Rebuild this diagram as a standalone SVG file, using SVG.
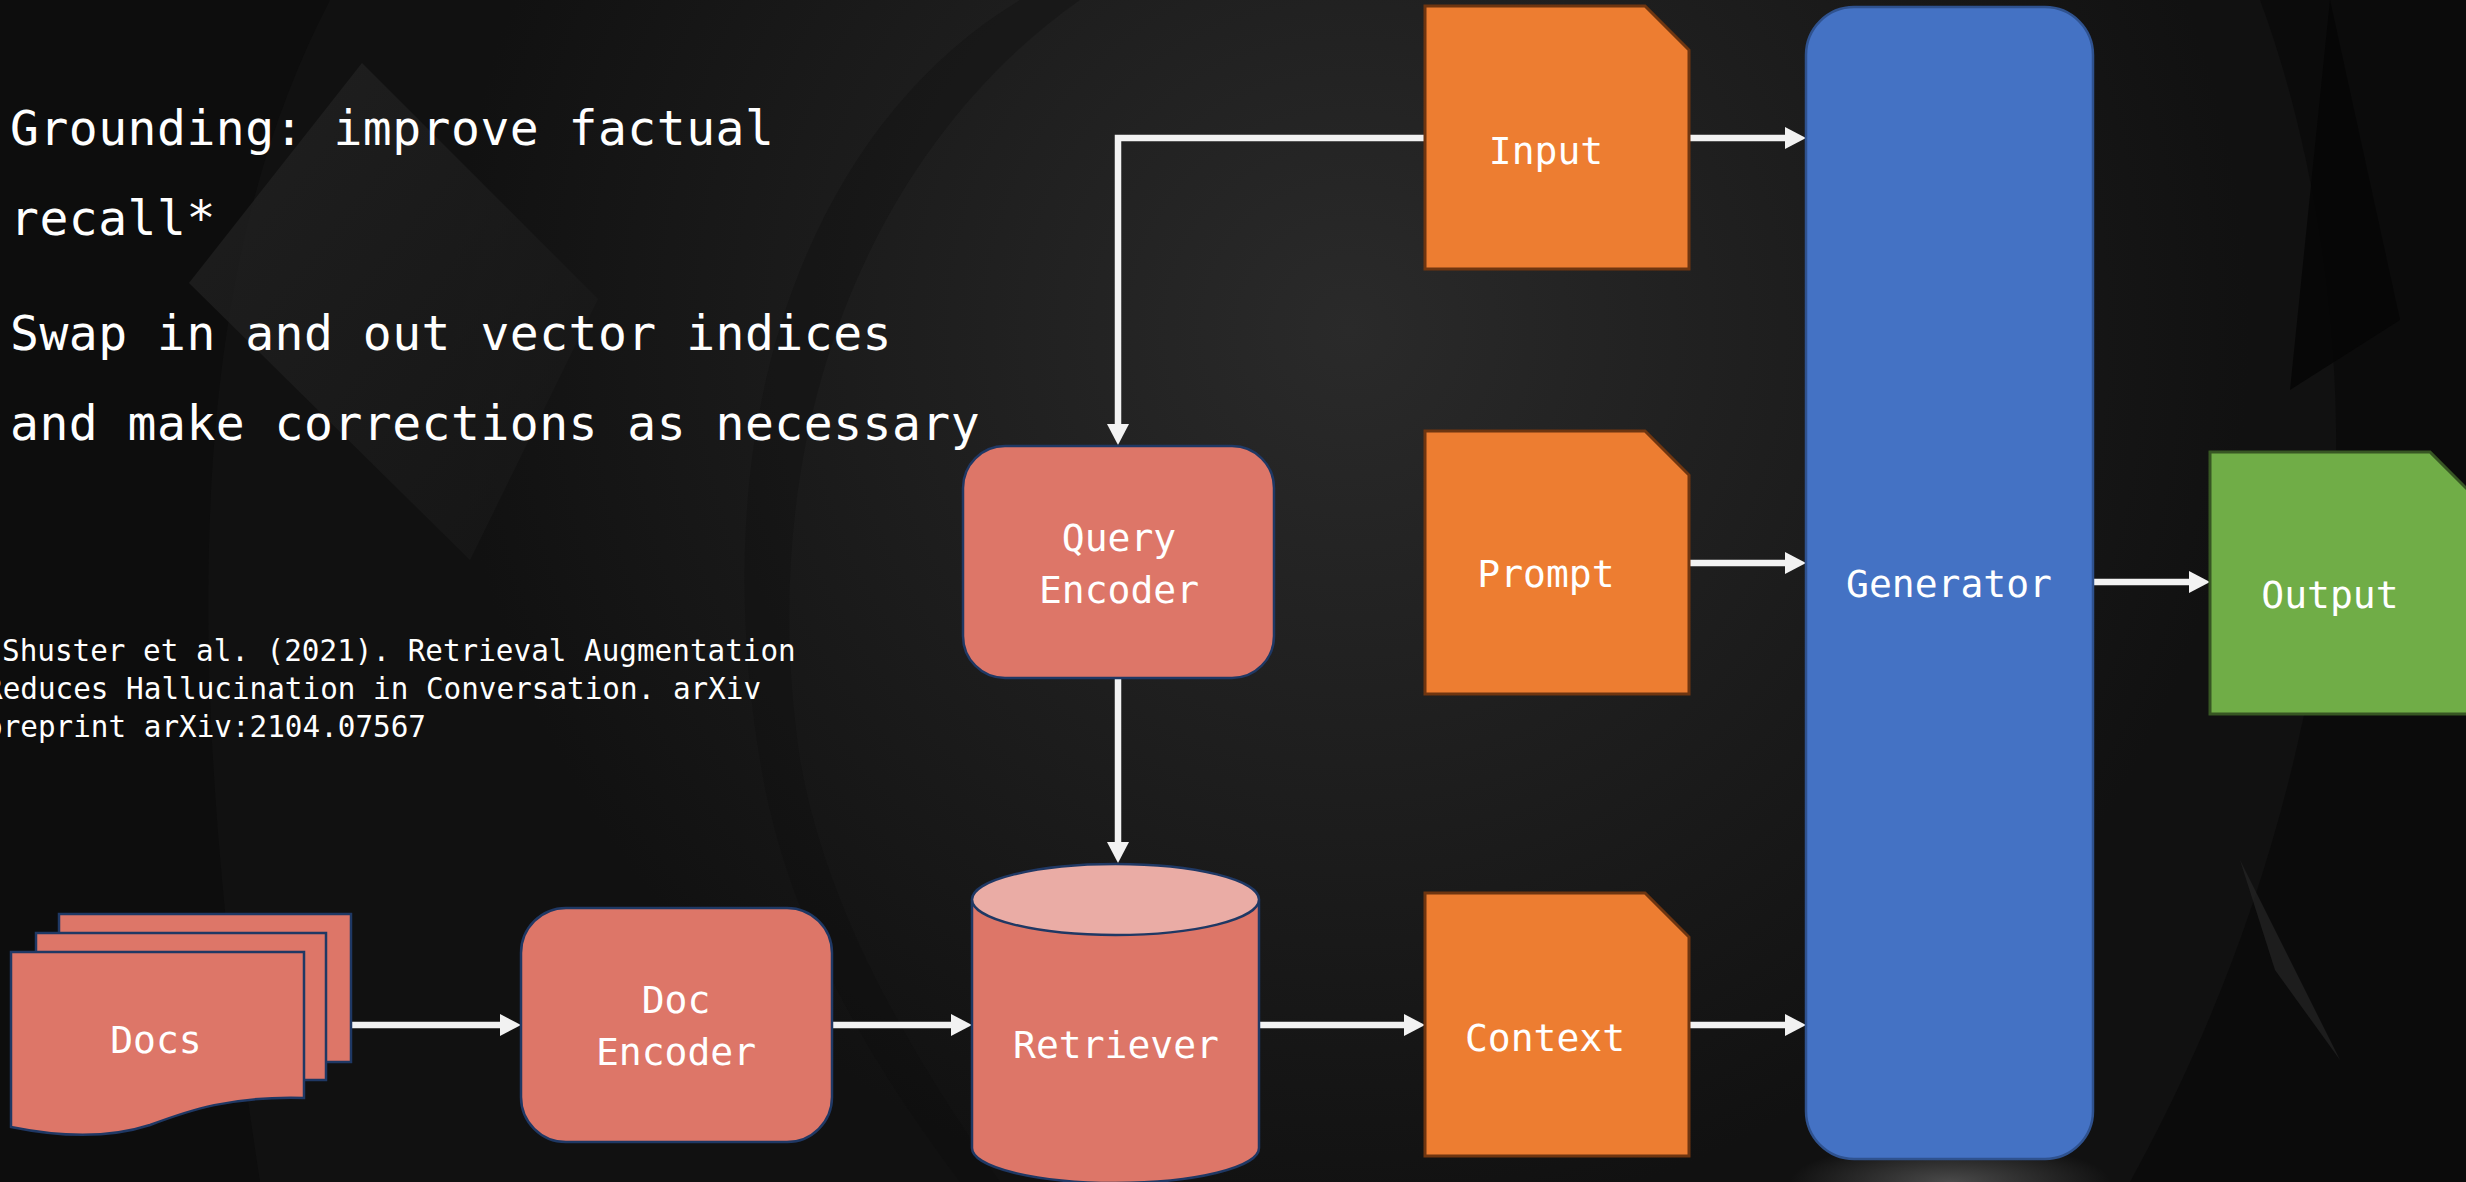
<svg xmlns="http://www.w3.org/2000/svg" width="2466" height="1182" viewBox="0 0 2466 1182">
  <defs>
    <style>
      .txt { font-family: "DejaVu Sans Mono", "Liberation Mono", monospace; fill: #ffffff; }
      .title { font-size: 48px; letter-spacing: 0.5px; }
      .cite { font-size: 29.3px; }
      .lbl { font-size: 38px; text-anchor: middle; }
      .pink { fill: #DD7668; stroke: #1F3864; stroke-width: 2.5; }
      .pinktop { fill: #EAACA5; stroke: #1F3864; stroke-width: 2.5; }
      .orange { fill: #ED7D31; stroke: #6E3510; stroke-width: 3; }
      .blue { fill: #4472C4; stroke: #2F528F; stroke-width: 2.5; }
      .green { fill: #70AD47; stroke: #375623; stroke-width: 3; }
      .conn { fill: none; stroke: #F2F2F2; stroke-width: 6.5; marker-end: url(#head); }
    </style>
    <marker id="head" markerUnits="userSpaceOnUse" markerWidth="22" markerHeight="22" refX="3" refY="11" orient="auto">
      <path d="M0,0 L21,11 L0,22 z" fill="#F2F2F2"/>
    </marker>
    <radialGradient id="glowA" cx="1350" cy="330" r="900" gradientUnits="userSpaceOnUse">
      <stop offset="0" stop-color="#2a2a2a"/>
      <stop offset="0.6" stop-color="#1b1b1b"/>
      <stop offset="1" stop-color="#111111"/>
    </radialGradient>
    <radialGradient id="glowB" cx="1950" cy="1182" r="160" gradientUnits="userSpaceOnUse" gradientTransform="translate(1950 1182) scale(1 0.25) translate(-1950 -1182)">
      <stop offset="0" stop-color="#4a4a4a"/>
      <stop offset="1" stop-color="#4a4a4a" stop-opacity="0"/>
    </radialGradient>
    <linearGradient id="diamond" x1="0" y1="0" x2="1" y2="1">
      <stop offset="0" stop-color="#262626"/>
      <stop offset="1" stop-color="#161616"/>
    </linearGradient>
  </defs>

  <!-- backdrop -->
  <g id="backdrop">
    <rect x="0" y="0" width="2466" height="1182" fill="url(#glowA)"/>
    <path d="M0,0 H330 C200,250 170,600 260,1182 H0 Z" fill="#0c0c0c" opacity="0.7"/>
    <polygon points="362,63 598,299 470,560 189,283" fill="url(#diamond)" opacity="0.7"/>
    <path d="M1020,0 C820,120 700,400 760,760 C790,950 900,1100 960,1182 H1000 C930,1080 830,930 800,760 C750,420 880,140 1080,0 Z" fill="#0e0e0e" opacity="0.3"/>
    <path d="M2260,0 H2466 V1182 H2130 C2230,1000 2300,800 2330,560 C2350,380 2320,160 2260,0 Z" fill="#0a0a0a" opacity="0.85"/>
    <path d="M2330,0 L2400,320 L2290,390 Z" fill="#050505" opacity="0.8"/>
    <path d="M2240,860 L2340,1060 L2275,970 Z" fill="#2a2a2a" opacity="0.6"/>
    <rect x="1750" y="1120" width="400" height="62" fill="url(#glowB)"/>
  </g>

  <!-- heading and citation -->
  <g id="notes" class="txt">
    <text class="title" x="10" y="145">Grounding: improve factual</text>
    <text class="title" x="10" y="235">recall*</text>
    <text class="title" x="10" y="350">Swap in and out vector indices</text>
    <text class="title" x="10" y="440">and make corrections as necessary</text>
    <text class="cite" x="2" y="661">Shuster et al. (2021). Retrieval Augmentation</text>
    <text class="cite" x="-15" y="699">Reduces Hallucination in Conversation. arXiv</text>
    <text class="cite" x="-15" y="737">preprint arXiv:2104.07567</text>
  </g>

  <!-- connectors -->
  <g id="connectors">
    <polyline class="conn" points="1425,138 1118,138 1118,427"/>
    <line class="conn" x1="1118" y1="678" x2="1118" y2="845"/>
    <line class="conn" x1="351" y1="1025" x2="503" y2="1025"/>
    <line class="conn" x1="832" y1="1025" x2="954" y2="1025"/>
    <line class="conn" x1="1259" y1="1025" x2="1407" y2="1025"/>
    <line class="conn" x1="1689" y1="138" x2="1788" y2="138"/>
    <line class="conn" x1="1689" y1="563" x2="1788" y2="563"/>
    <line class="conn" x1="1689" y1="1025" x2="1788" y2="1025"/>
    <line class="conn" x1="2093" y1="582" x2="2192" y2="582"/>
  </g>

  <g id="docs">
    <rect class="pink" x="59" y="914" width="292" height="148"/>
    <rect class="pink" x="36" y="933" width="290" height="147"/>
    <path class="pink" d="M11,952 H304 V1098 C230,1096 190,1110 150,1125 C110,1138 60,1137 11,1127 Z"/>
    <text class="txt lbl" x="156" y="1053">Docs</text>
  </g>

  <g id="doc-encoder">
    <rect class="pink" x="521" y="908" width="311" height="234" rx="45" ry="45"/>
    <text class="txt lbl" x="676" y="1013">Doc</text>
    <text class="txt lbl" x="676" y="1065">Encoder</text>
  </g>

  <g id="query-encoder">
    <rect class="pink" x="963" y="446" width="311" height="232" rx="42" ry="42"/>
    <text class="txt lbl" x="1119" y="551">Query</text>
    <text class="txt lbl" x="1119" y="603">Encoder</text>
  </g>

  <g id="retriever">
    <path class="pink" d="M972,899.5 V1148 A143.5,35 0 0 0 1259,1148 V899.5"/>
    <ellipse class="pinktop" cx="1115.5" cy="899.5" rx="143.5" ry="35.5"/>
    <text class="txt lbl" x="1116" y="1058">Retriever</text>
  </g>

  <g id="input">
    <path class="orange" d="M1425,6 H1645 L1689,50 V269 H1425 Z"/>
    <text class="txt lbl" x="1546" y="164">Input</text>
  </g>

  <g id="prompt">
    <path class="orange" d="M1425,431 H1645 L1689,475 V694 H1425 Z"/>
    <text class="txt lbl" x="1546" y="587">Prompt</text>
  </g>

  <g id="context">
    <path class="orange" d="M1425,893 H1645 L1689,937 V1156 H1425 Z"/>
    <text class="txt lbl" x="1545" y="1051">Context</text>
  </g>

  <g id="generator">
    <rect class="blue" x="1806" y="7" width="287" height="1152" rx="48" ry="48"/>
    <text class="txt lbl" x="1949" y="597">Generator</text>
  </g>

  <g id="output">
    <path class="green" d="M2210,452 H2430 L2474,496 V714 H2210 Z"/>
    <text class="txt lbl" x="2330" y="608">Output</text>
  </g>
</svg>
